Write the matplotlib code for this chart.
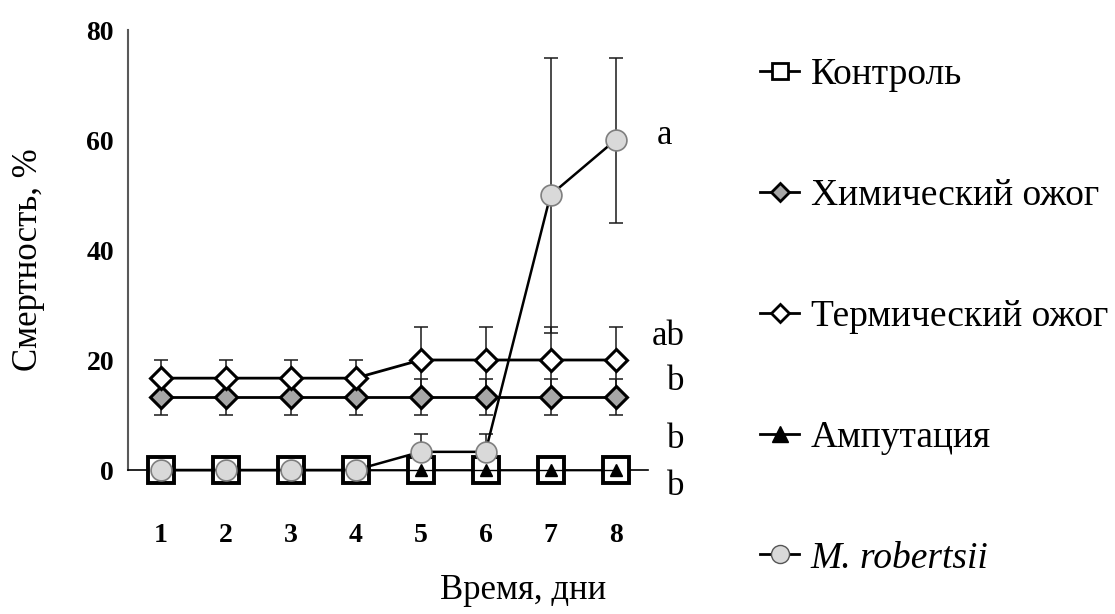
import matplotlib
matplotlib.use('Agg')
import matplotlib.pyplot as plt
from matplotlib.lines import Line2D

plt.rcParams['font.family'] = ['Liberation Serif', 'DejaVu Serif']

# Data (mortality, %)
days = [1, 2, 3, 4, 5, 6, 7, 8]
control = [0, 0, 0, 0, 0, 0, 0, 0]
chem = [13.3, 13.3, 13.3, 13.3, 13.3, 13.3, 13.3, 13.3]
chem_err = [3.3, 3.3, 3.3, 3.3, 3.3, 3.3, 3.3, 3.3]
thermal = [16.7, 16.7, 16.7, 16.7, 20, 20, 20, 20]
thermal_err = [3.3, 3.3, 3.3, 3.3, 6, 6, 6, 6]
amput = [0, 0, 0, 0, 0, 0, 0, 0]
mrob = [0, 0, 0, 0, 3.3, 3.3, 50, 60]
mrob_err = [0, 0, 0, 0, 3.3, 3.3, 25, 15]

labels = ['Контроль', 'Химический ожог', 'Термический ожог', 'Ампутация', 'M. robertsii']
yticks = [0, 20, 40, 60, 80]

# significance letters
letters = ['a', 'ab', 'b', 'b', 'b']
letter_x = [8.75, 8.81, 8.92, 8.92, 8.92]
letter_y = [59.3, 22.7, 14.5, 4, -4.5]

fig = plt.figure(figsize=(11.15, 6.14), dpi=100)
ax = fig.add_axes([128 / 1115, 144 / 614, 520 / 1115, 440 / 614])

# error bars underneath everything
eb = dict(fmt='none', ecolor='#1a1a1a', elinewidth=1.1, capsize=5, capthick=1.1, zorder=1)
ax.errorbar(days, chem, yerr=chem_err, **eb)
ax.errorbar(days, thermal, yerr=thermal_err, **eb)
ax.errorbar(days, mrob, yerr=mrob_err, **eb)

ax.plot(days, control, color='black', lw=1, marker='s', ms=19, mfc='white',
        mec='black', mew=2.8, zorder=3, clip_on=False)
ax.plot(days, chem, color='black', lw=2, marker='D', ms=11, mfc='#a6a6a6',
        mec='black', mew=2.2, zorder=3)
ax.plot(days, thermal, color='black', lw=2, marker='D', ms=11, mfc='white',
        mec='black', mew=2.2, zorder=3)
ax.plot(days, amput, color='black', lw=1, marker='^', ms=9, mfc='black',
        mec='black', zorder=4, clip_on=False)
ax.plot(days, mrob, color='black', lw=1.8, marker='o', ms=15, mfc='#d9d9d9',
        mec='#7f7f7f', mew=1.2, zorder=5, clip_on=False)

for lab, xx, yy in zip(letters, letter_x, letter_y):
    ax.text(xx, yy, lab, fontsize=25, ha='center', va='baseline', clip_on=False)

ax.set_xlim(0.5, 8.5)
ax.set_ylim(0, 80)
ax.set_xticks(days)
ax.set_xticklabels([str(d) for d in days], fontsize=20, fontweight='bold')
ax.set_yticks(yticks)
ax.set_yticklabels([str(v) for v in yticks], fontsize=20, fontweight='bold')
ax.tick_params(axis='x', length=0, pad=38)
ax.tick_params(axis='y', length=0, pad=10)

for s in ['top', 'right']:
    ax.spines[s].set_visible(False)
ax.spines['left'].set_color('#595959')
ax.spines['left'].set_linewidth(1.5)
ax.spines['bottom'].set_color('black')
ax.spines['bottom'].set_linewidth(1.2)

ax.set_ylabel('Смертность, %', fontsize=25, va='center')
ax.yaxis.set_label_coords(-0.192, 0.477)
ax.set_xlabel('Время, дни', fontsize=25, va='center')
ax.xaxis.set_label_coords(0.76, -0.273)

# Legend
handles = [
    Line2D([], [], color='black', lw=2, marker='s', ms=11, mfc='white', mec='black', mew=2),
    Line2D([], [], color='black', lw=2, marker='D', ms=9, mfc='#a6a6a6', mec='black', mew=2),
    Line2D([], [], color='black', lw=2, marker='D', ms=9, mfc='white', mec='black', mew=2),
    Line2D([], [], color='black', lw=2, marker='^', ms=11, mfc='black', mec='black'),
    Line2D([], [], color='black', lw=2, marker='o', ms=13, mfc='#d9d9d9', mec='#555555', mew=1),
]
leg = ax.legend(handles, labels, loc='upper left', bbox_to_anchor=(760 / 1115, 1 - 58 / 614),
                bbox_transform=fig.transFigure, frameon=False, fontsize=27,
                handlelength=1.05, handletextpad=0.3, labelspacing=2.3,
                borderpad=0, borderaxespad=0)
leg.get_texts()[4].set_style('italic')

fig.savefig('out.png', dpi=100)
